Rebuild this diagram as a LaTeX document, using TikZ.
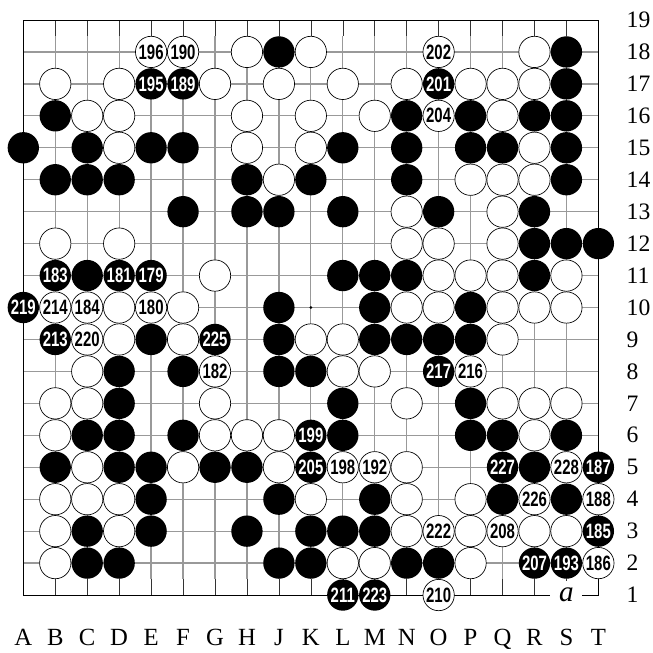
\documentclass[tikz,border=0pt]{standalone}
\usepackage{fontspec}
\setmainfont{Liberation Serif}
\newfontfamily\stonefont[FakeStretch=0.72]{Liberation Sans Bold}

\begin{document}
\begin{tikzpicture}[x=1cm, y=1cm,
    gridline/.style={black!40, line width=1.1pt},
    stubline/.style={black!80, line width=0.5pt},
    frameline/.style={black, line width=0.8pt},
    bstone/.style={circle, fill=black, text=white, inner sep=0pt, minimum size=0.98cm,
        font=\stonefont\fontsize{18.5}{18.5}\selectfont},
    wstone/.style={bstone, fill=white, draw=black, line width=0.6pt, text=black},
    collabel/.style={anchor=base, inner sep=0pt, font=\fontsize{22}{22}\selectfont},
    rowlabel/.style={anchor=base west, inner sep=0pt, font=\fontsize{21}{21}\selectfont},
    pointlabel/.style={fill=white, inner sep=0pt, minimum width=1cm, minimum height=0.9cm,
        font=\itshape\fontsize{26}{26}\selectfont}]
    \useasboundingbox (-0.73,-1.788) rectangle (19.71,18.626);
    % board
    \foreach \i in {1,...,17} {
        \draw[gridline] (\i,0.5) -- (\i,17.5);
        \draw[stubline] (\i,0) -- (\i,0.5) (\i,17.5) -- (\i,18);
        \draw[gridline] (0,\i) -- (18,\i);
    }
    \draw[frameline] (0,0) rectangle (18,18);
    \foreach \p in {(3,3),(9,3),(15,3),(3,9),(9,9),(15,9),(3,15),(9,15),(15,15)} {
        \fill \p circle (0.045);
    }
    % black stones
    \foreach \p in {(8,17),(17,17),(17,16),(1,15),(12,15),(14,15),(16,15),(17,15),
        (0,14),(2,14),(4,14),(5,14),(10,14),(12,14),(14,14),(15,14),(17,14),
        (1,13),(2,13),(3,13),(7,13),(9,13),(12,13),(17,13),
        (5,12),(7,12),(8,12),(10,12),(13,12),(16,12),(16,11),(17,11),(18,11),
        (2,10),(10,10),(11,10),(12,10),(16,10),(8,9),(11,9),(14,9),
        (4,8),(8,8),(11,8),(12,8),(13,8),(14,8),(3,7),(5,7),(8,7),(9,7),
        (3,6),(10,6),(14,6),(2,5),(3,5),(5,5),(10,5),(14,5),(15,5),(17,5),
        (1,4),(3,4),(4,4),(6,4),(7,4),(16,4),(4,3),(8,3),(11,3),(15,3),(17,3),
        (2,2),(4,2),(7,2),(9,2),(10,2),(11,2),(2,1),(3,1),(8,1),(9,1),(12,1),(13,1)} {
        \fill[black] \p circle (0.49);
    }
    % white stones
    \foreach \p in {(7,17),(9,17),(16,17),
        (1,16),(3,16),(6,16),(8,16),(10,16),(12,16),(14,16),(15,16),(16,16),
        (2,15),(3,15),(7,15),(9,15),(11,15),(15,15),(3,14),(7,14),(9,14),(16,14),
        (8,13),(14,13),(15,13),(16,13),(12,12),(15,12),
        (1,11),(3,11),(12,11),(13,11),(15,11),(6,10),(13,10),(14,10),(15,10),(17,10),
        (3,9),(5,9),(12,9),(13,9),(15,9),(16,9),(17,9),(3,8),(5,8),(9,8),(10,8),(15,8),
        (2,7),(10,7),(11,7),(1,6),(2,6),(6,6),(12,6),(15,6),(16,6),(17,6),
        (1,5),(6,5),(7,5),(8,5),(16,5),(2,4),(5,4),(8,4),(12,4),
        (1,3),(2,3),(3,3),(9,3),(12,3),(14,3),(1,2),(3,2),(12,2),(14,2),(16,2),(17,2),
        (1,1),(10,1),(11,1),(14,1)} {
        \filldraw[fill=white, draw=black, line width=0.6pt] \p circle (0.49);
    }
    % numbered moves
    \foreach \n/\x/\y in {179/4/10,181/3/10,183/1/10,185/18/2,187/18/4,189/5/16,193/17/1,
        195/4/16,199/9/5,201/13/16,205/9/4,207/16/1,211/10/0,213/1/8,217/13/7,219/0/9,
        223/11/0,225/6/8,227/15/4} {
        \node[bstone] (m\n) at (\x,\y) {\n};
    }
    \foreach \n/\x/\y in {180/4/9,182/6/7,184/2/9,186/18/1,188/18/3,190/5/17,192/11/4,
        196/4/17,198/10/4,202/13/17,204/13/15,208/15/2,210/13/0,214/1/9,216/14/7,
        220/2/8,222/13/2,226/16/3,228/17/4} {
        \node[wstone] (m\n) at (\x,\y) {\n};
    }
    \node[pointlabel] (pa) at (17,0) {a};
    % coordinates
    \foreach \c [count=\i from 0] in {A,B,C,D,E,F,G,H,J,K,L,M,N,O,P,Q,R,S,T} {
        \node[collabel] (c\c) at (\i,-1.58) {\c};
    }
    \foreach \r in {1,...,19} {
        \node[rowlabel] (r\r) at (18.88,\r-1.24) {\r};
    }
\end{tikzpicture}
\end{document}
